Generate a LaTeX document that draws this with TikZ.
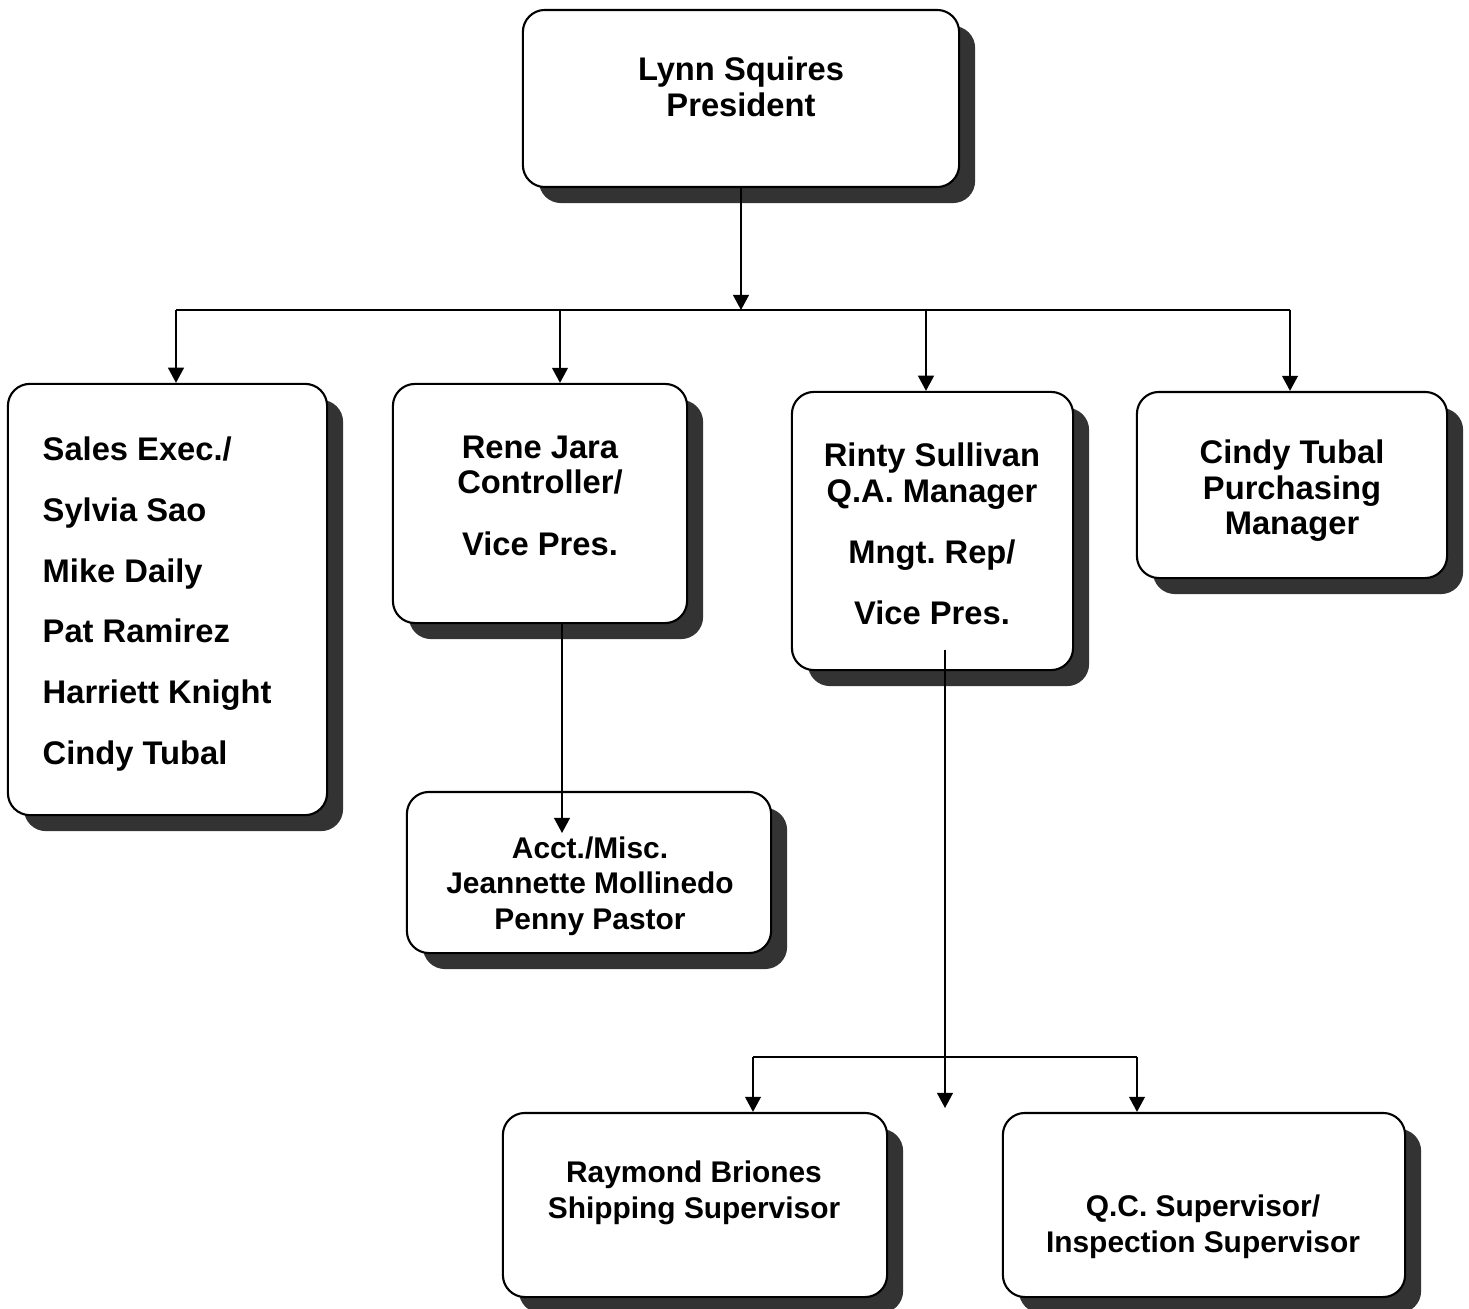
\documentclass[tikz,border=0pt]{standalone}
\usepackage{fontspec}
\setmainfont{Liberation Sans}
\usetikzlibrary{shadows, arrows.meta, positioning}
\definecolor{shadowcol}{RGB}{51,51,51}
\definecolor{boxcol}{RGB}{0,0,0}
\frenchspacing

\begin{document}
\begin{tikzpicture}[
			x=0.01cm,
			y=-0.01cm,
			box/.style={
				draw=boxcol,
				rectangle,
				rounded corners=0.22cm,
				line width=0.6pt,
				fill=white,
				inner sep=0pt,
				drop shadow={shadow xshift=0.16cm, shadow yshift=-0.16cm, fill=shadowcol, opacity=1}
			},
			txt/.style={
				inner sep=0pt,
				align=center,
				font=\bfseries\fontsize{9.3}{10.1}\selectfont
			},
			smalltxt/.style={
				txt,
				font=\bfseries\fontsize{8.5}{10.1}\selectfont
			},
			link/.style={
				draw=boxcol,
				line width=0.5pt
			},
			arr/.style={
				link,
				-{Triangle[length=4.3pt,width=4.5pt]}
			}
			]
			\useasboundingbox (0,0) rectangle (1469,1309);
			
			% Boxes
			\node[box, minimum width=4.36cm, minimum height=1.77cm] (pres) at (741,98.5) {};
			\node[box, minimum width=3.19cm, minimum height=4.31cm] (sales) at (167.5,599.5) {};
			\node[box, minimum width=2.94cm, minimum height=2.39cm] (rene) at (540,503.5) {};
			\node[box, minimum width=3.64cm, minimum height=1.61cm] (acct) at (589,872.5) {};
			\node[box, minimum width=2.81cm, minimum height=2.78cm] (qa) at (932.5,531) {};
			\node[box, minimum width=3.10cm, minimum height=1.86cm] (purch) at (1292,485) {};
			\node[box, minimum width=3.84cm, minimum height=1.84cm] (ship) at (695,1205) {};
			\node[box, minimum width=4.02cm, minimum height=1.84cm] (qc) at (1204,1205) {};
			
			% Texts
			\node[txt] (pres-txt) at (741,87) {Lynn Squires\\President};
			\node[txt, align=left, anchor=west] (sales-txt) at (42,604)
				{Sales Exec./\\[7.2pt]Sylvia Sao\\[7.2pt]Mike Daily\\[7.2pt]Pat Ramirez\\[7.2pt]Harriett Knight\\[7.2pt]Cindy Tubal};
			\node[txt] (rene-txt) at (540,496) {Rene Jara\\Controller/\\[7.5pt]Vice Pres.};
			\node[smalltxt] (acct-txt) at (590,886) {Acct./Misc.\\Jeannette Mollinedo\\Penny Pastor};
			\node[txt] (qa-txt) at (932,534) {Rinty Sullivan\\Q.A. Manager\\[7.5pt]Mngt. Rep/\\[7.2pt]Vice Pres.};
			\node[txt] (purch-txt) at (1292,491) {Cindy Tubal\\Purchasing\\Manager};
			\node[smalltxt] (ship-txt) at (694,1193) {Raymond Briones\\Shipping Supervisor};
			\node[smalltxt] (qc-txt) at (1203,1227) {Q.C. Supervisor/\\Inspection Supervisor};
			
			% Bus points
			\coordinate (bus) at (741,310);
			\coordinate (d1) at (176,310);
			\coordinate (d2) at (560,310);
			\coordinate (d3) at (926,310);
			\coordinate (d4) at (1290,310);
			\coordinate (acct-in) at (562,833);
			\coordinate (qa-out) at (945,650);
			\coordinate (qa-end) at (945,1108);
			\coordinate (e1) at (753,1057);
			\coordinate (e2) at (1137,1057);
			
			% Connectors
			\draw[arr] (pres.south) -- (bus);
			\draw[link] (d1) -- (d4);
			\draw[arr] (d1) -- (d1 |- sales.north);
			\draw[arr] (d2) -- (d2 |- rene.north);
			\draw[arr] (d3) -- (d3 |- qa.north);
			\draw[arr] (d4) -- (d4 |- purch.north);
			\draw[arr] (acct-in |- rene.south) -- (acct-in);
			\draw[arr] (qa-out) -- (qa-end);
			\draw[link] (e1) -- (e2);
			\draw[arr] (e1) -- (e1 |- ship.north);
			\draw[arr] (e2) -- (e2 |- qc.north);
		\end{tikzpicture}
\end{document}
